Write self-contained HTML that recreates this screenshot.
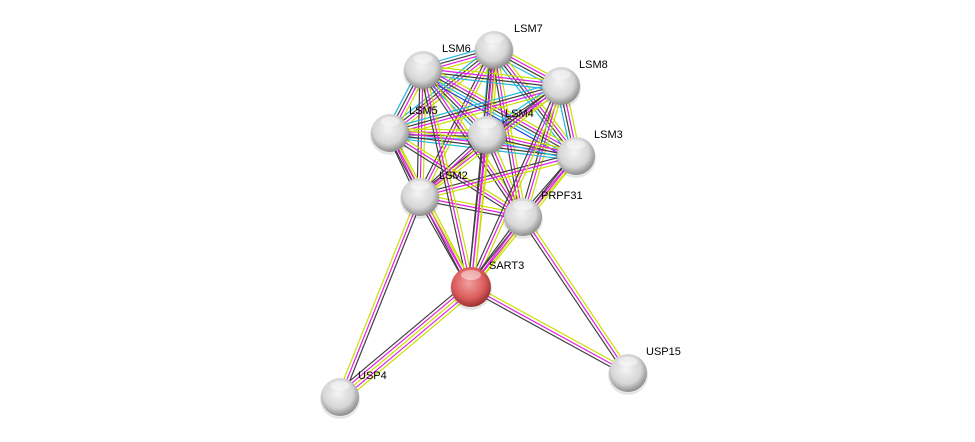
<!DOCTYPE html>
<html><head><meta charset="utf-8"><style>
html,body{margin:0;padding:0;background:#fff;}
svg{display:block}
text{font-family:"Liberation Sans",sans-serif;font-size:11px;fill:#000}
</style></head><body>
<svg id="s" width="975" height="442" viewBox="0 0 975 442">
<defs>
<radialGradient id="g" cx="0.45" cy="0.4" r="0.65">
<stop offset="0" stop-color="#f4f4f4"/><stop offset="0.6" stop-color="#d6d6d6"/><stop offset="1" stop-color="#7a7a7a"/>
</radialGradient>
<radialGradient id="r" cx="0.45" cy="0.4" r="0.65">
<stop offset="0" stop-color="#f2a0a0"/><stop offset="0.6" stop-color="#dc5c5c"/><stop offset="1" stop-color="#8a2828"/>
</radialGradient>
</defs>
<g id="e"></g><g id="n"></g>
</svg>
<script>
var N={LSM7:[494,50],LSM6:[423,70],LSM8:[561,86],LSM5:[390,133],LSM4:[487,135],LSM3:[576,156],LSM2:[420,197],PRPF31:[523,217],SART3:[471,287],USP4:[340,397],USP15:[628,373]};
var Y="#c8e000",M="#e020e0",K="#404040",C="#20b8e0",B="#2040e0";
var E=[];
var cl=["LSM7","LSM6","LSM8","LSM5","LSM4","LSM3","LSM2","PRPF31"];
for(var i=0;i<cl.length;i++)for(var j=i+1;j<cl.length;j++){
 var a=cl[i],b=cl[j];var cols=[Y,M,K];
 if(a!="PRPF31"&&b!="PRPF31"&&a!="LSM2"&&b!="LSM2")cols=[Y,M,K,C];
 if((a=="LSM6"&&b=="LSM3")||(a=="LSM4"&&b=="LSM8"))cols=[Y,M,K,C,B];
 E.push([a,b,cols]);}
for(var i=0;i<cl.length;i++)E.push([cl[i],"SART3",[Y,M,K]]);
E.push(["SART3","USP4",[Y,M,Y,M,K]]);E.push(["LSM2","USP4",[K,M,Y]]);
E.push(["SART3","USP15",[Y,M,K]]);E.push(["PRPF31","USP15",[Y,M,K]]);
var s="";
E.forEach(function(e){var p=N[e[0]],q=N[e[1]];var dx=q[0]-p[0],dy=q[1]-p[1],L=Math.hypot(dx,dy);var nx=-dy/L,ny=dx/L;var n=e[2].length;
 e[2].forEach(function(c,k){var o=(k-(n-1)/2)*3;
 s+='<line x1="'+(p[0]+nx*o)+'" y1="'+(p[1]+ny*o)+'" x2="'+(q[0]+nx*o)+'" y2="'+(q[1]+ny*o)+'" stroke="'+c+'" stroke-width="1.2"/>';});});
document.getElementById("e").innerHTML=s;
var t="";
for(var k in N){var p=N[k];var r=k=="SART3"?20:19;
 t+='<circle cx="'+p[0]+'" cy="'+(p[1]+2)+'" r="'+(r+1)+'" fill="#000" opacity="0.1"/>';
 t+='<circle cx="'+p[0]+'" cy="'+p[1]+'" r="'+r+'" fill="url(#'+(k=="SART3"?"r":"g")+')"/>';
 t+='<ellipse cx="'+p[0]+'" cy="'+(p[1]-r*0.6)+'" rx="'+r*0.5+'" ry="'+r*0.25+'" fill="#fff" opacity="0.45"/>';}
var lab={LSM7:[514,32],LSM6:[442,52],LSM8:[579,68],LSM5:[409,114],LSM4:[505,117],LSM3:[594,138],LSM2:[439,179],PRPF31:[541,199],SART3:[489,269],USP4:[358,379],USP15:[646,355]};
for(var k in lab)t+='<text x="'+lab[k][0]+'" y="'+lab[k][1]+'">'+k+'</text>';
document.getElementById("n").innerHTML=t;
</script>
</body></html>
